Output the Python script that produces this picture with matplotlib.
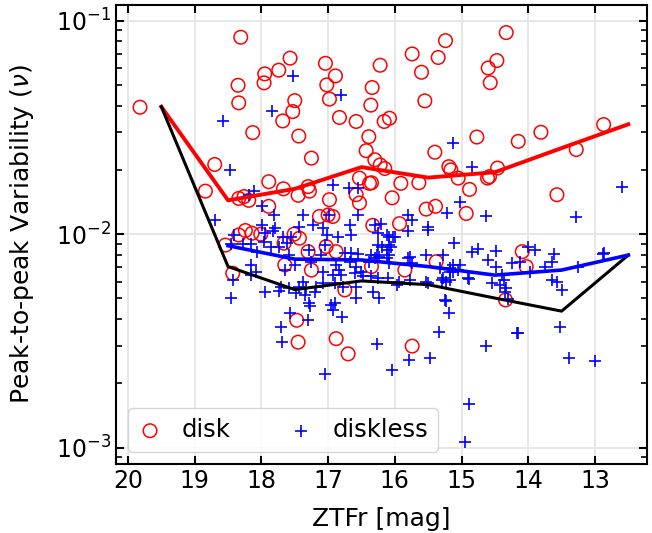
#!/usr/bin/env python3
"""Peak-to-peak variability vs ZTFr magnitude for disk / diskless stars."""

import matplotlib

matplotlib.use("Agg")
import matplotlib.pyplot as plt
import numpy as np

# disk stars (red circles): ZTFr magnitude, peak-to-peak variability
disk_mag = [
    19.82, 18.31, 18.35, 18.34, 18.13, 17.95, 17.96, 17.74, 17.57, 17.50,
    17.53, 17.68, 17.44, 17.25, 17.04, 16.89, 17.02, 16.98, 16.83, 16.58,
    16.22, 16.34, 16.36, 16.16, 16.08, 16.39, 16.43, 16.30, 16.22, 16.15,
    15.74, 15.35, 15.24, 15.60, 15.55, 15.40, 14.33, 14.47, 14.60, 14.57,
    14.77, 14.15, 13.81, 12.87, 13.28, 13.57, 16.35, 16.04, 15.91, 15.64,
    15.19, 15.16, 15.05, 14.88, 15.53, 15.39, 14.93, 14.61, 14.58, 14.46,
    15.93, 14.09, 14.03, 14.34, 15.74, 17.47, 17.45, 16.88, 16.70, 18.70,
    18.84, 18.34, 18.26, 18.19, 17.89, 17.67, 17.45, 17.89, 18.54, 18.34,
    18.24, 18.14, 18.01, 17.66, 17.51, 17.43, 17.65, 18.43, 17.30, 17.28,
    16.98, 16.53, 16.38, 16.58, 16.53, 17.00, 16.93, 17.13, 16.33, 17.03,
    17.30, 16.88, 17.25, 16.35, 15.85, 15.38, 16.75,
]
disk_nu = [
    0.0393, 0.0836, 0.0498, 0.0412, 0.0299, 0.0563, 0.0511, 0.0586, 0.0667, 0.0422,
    0.0375, 0.0339, 0.0288, 0.0227, 0.0631, 0.0551, 0.0500, 0.0429, 0.0352, 0.0337,
    0.0618, 0.0486, 0.0402, 0.0337, 0.0349, 0.0286, 0.0246, 0.0223, 0.0211, 0.0203,
    0.0698, 0.0672, 0.0806, 0.0573, 0.0421, 0.0242, 0.0879, 0.0650, 0.0600, 0.0512,
    0.0285, 0.0272, 0.0300, 0.0326, 0.0249, 0.0153, 0.0174, 0.0148, 0.0173, 0.0174,
    0.0207, 0.0200, 0.0183, 0.0162, 0.0131, 0.0135, 0.0125, 0.0183, 0.0186, 0.0204,
    0.0112, 0.00828, 0.00705, 0.00492, 0.00299, 0.00395, 0.00312, 0.00324, 0.00275, 0.0212,
    0.0159, 0.0147, 0.0150, 0.0144, 0.0176, 0.0163, 0.0152, 0.0135, 0.00889, 0.00991,
    0.0104, 0.0101, 0.0100, 0.00907, 0.0100, 0.00957, 0.00718, 0.00656, 0.0167, 0.0159,
    0.0145, 0.0183, 0.0173, 0.0153, 0.0140, 0.0123, 0.0121, 0.0121, 0.0110, 0.00875,
    0.00828, 0.00828, 0.00679, 0.00705, 0.00679, 0.00743, 0.00548,
]

# diskless stars (blue plus signs)
diskless_mag = [
    18.57, 17.84, 17.53, 16.80, 15.13, 14.85, 15.02, 15.22, 14.64, 13.28,
    12.60, 15.50, 15.80, 15.75, 14.84, 14.75, 14.49, 14.60, 14.48, 14.25,
    14.13, 14.00, 13.90, 13.98, 13.75, 13.65, 13.61, 13.57, 13.50, 14.40,
    14.43, 14.55, 14.35, 14.30, 14.89, 13.25, 12.88, 12.86, 13.53, 13.39,
    13.00, 14.15, 14.17, 14.64, 14.89, 14.95, 15.34, 15.47, 15.79, 16.04,
    16.27, 15.24, 15.19, 17.57, 17.70, 17.69, 17.30, 17.27, 17.04, 16.95,
    16.92, 16.79, 18.47, 18.69, 18.11, 18.18, 17.99, 17.81, 17.99, 17.80,
    18.41, 18.46, 18.28, 18.16, 18.06, 17.96, 17.86, 17.74, 17.61, 17.59,
    18.15, 18.08, 18.16, 17.65, 18.43, 18.46, 17.94, 17.74, 17.71, 17.59,
    16.93, 16.68, 16.55, 17.37, 17.22, 17.43, 17.07, 17.02, 16.85, 16.67,
    16.65, 16.55, 16.98, 16.30, 16.20, 16.25, 16.12, 16.03, 15.80, 15.50,
    15.12, 15.28, 16.08, 16.12, 16.25, 16.27, 16.35, 16.12, 17.05, 17.28,
    17.10, 16.75, 16.65, 16.55, 17.50, 17.25, 16.88, 16.83, 16.67, 16.58,
    16.50, 16.30, 16.38, 16.08, 17.07, 16.93, 16.80, 16.60, 16.48, 16.35,
    16.25, 16.10, 15.93, 15.78, 15.53, 15.28, 15.18, 15.23, 15.03, 15.05,
    15.13, 15.78, 15.53, 15.13, 17.37, 17.43, 17.33, 17.18, 17.20, 17.48,
    17.35, 16.78, 16.58, 16.33, 16.23, 16.58, 16.90, 17.28, 15.25, 16.90,
    17.07, 17.95, 17.83, 17.68, 17.55, 15.32, 15.18, 15.29, 15.18, 14.91,
    14.36, 14.34, 13.64, 15.96, 15.50, 16.08, 16.00, 16.19, 16.06, 16.23,
    16.08, 15.80, 15.75,
]
diskless_nu = [
    0.0337, 0.0378, 0.0551, 0.0449, 0.0268, 0.0207, 0.0142, 0.0125, 0.0121, 0.0120,
    0.0167, 0.0105, 0.0123, 0.0117, 0.00828, 0.00849, 0.00838, 0.00756, 0.00705, 0.00731,
    0.00738, 0.00875, 0.00844, 0.00667, 0.00705, 0.00738, 0.00805, 0.00596, 0.00548, 0.00644,
    0.00578, 0.00589, 0.00538, 0.00498, 0.00618, 0.00705, 0.00805, 0.00820, 0.00369, 0.00262,
    0.00256, 0.00344, 0.00346, 0.00301, 0.00160, 0.00106, 0.00350, 0.00264, 0.00258, 0.00231,
    0.00305, 0.00489, 0.00427, 0.00426, 0.00368, 0.00312, 0.00395, 0.00461, 0.00221, 0.00467,
    0.00441, 0.00410, 0.0200, 0.0116, 0.0159, 0.0153, 0.0136, 0.0123, 0.0110, 0.0107,
    0.00991, 0.00898, 0.00898, 0.00898, 0.00828, 0.00917, 0.00875, 0.00875, 0.00907, 0.00799,
    0.00718, 0.00667, 0.00644, 0.00679, 0.00611, 0.00501, 0.00536, 0.00544, 0.00568, 0.00559,
    0.0170, 0.0164, 0.0164, 0.0123, 0.0110, 0.0108, 0.0107, 0.00991, 0.00973, 0.0110,
    0.00991, 0.0123, 0.0123, 0.0110, 0.0112, 0.0101, 0.0099, 0.00973, 0.0103, 0.0108,
    0.00907, 0.00799, 0.00889, 0.00844, 0.00889, 0.00799, 0.00799, 0.00771, 0.00889, 0.00844,
    0.00799, 0.00813, 0.00813, 0.00805, 0.00718, 0.00743, 0.00718, 0.00679, 0.00743, 0.00705,
    0.00667, 0.00771, 0.00743, 0.00731, 0.00667, 0.00644, 0.00644, 0.00656, 0.00634, 0.00634,
    0.00622, 0.00622, 0.00600, 0.00611, 0.00600, 0.00622, 0.00667, 0.00600, 0.00718, 0.00679,
    0.00667, 0.00785, 0.00799, 0.00718, 0.00600, 0.00568, 0.00559, 0.00568, 0.00538, 0.00528,
    0.00519, 0.00568, 0.00568, 0.00538, 0.00501, 0.00501, 0.00474, 0.00474, 0.00492, 0.00589,
    0.00589, 0.0101, 0.0103, 0.00973, 0.00973, 0.00692, 0.00692, 0.00611, 0.00611, 0.00622,
    0.00611, 0.00558, 0.00611, 0.00578, 0.00589, 0.00973, 0.00973, 0.00875, 0.00875, 0.00785,
    0.00799, 0.00771, 0.00731,
]

# binned trend lines
bin_mag = [19.5, 18.5, 17.5, 16.5, 15.5, 14.5, 13.5, 12.5]
disk_trend = [0.0395, 0.0144, 0.0163, 0.0206, 0.0184, 0.0195, 0.0253, 0.0327]
all_trend = [0.0395, 0.00705, 0.0055, 0.00604, 0.0058, 0.00502, 0.00436, 0.00798]
diskless_bin_mag = [18.5, 17.5, 16.5, 15.5, 14.5, 13.5, 12.5]
diskless_trend = [0.00883, 0.00764, 0.00757, 0.00705, 0.00643, 0.00679, 0.00798]

fig = plt.figure(figsize=(6.52, 5.33), dpi=100)
ax = fig.add_axes([0.1779, 0.1295, 0.8144, 0.8612])

ax.scatter(disk_mag, disk_nu, s=95, facecolors="none", edgecolors="red",
           linewidths=1.1, label="disk", zorder=3)
ax.scatter(diskless_mag, diskless_nu, s=85, marker="+", color="blue",
           linewidths=1.2, label="diskless", zorder=3)

ax.plot(bin_mag, disk_trend, color="red", lw=2.8, zorder=4)
ax.plot(bin_mag, all_trend, color="black", lw=2.2, zorder=4)
ax.plot(diskless_bin_mag, diskless_trend, color="blue", lw=2.6, zorder=4)

ax.set_yscale("log")
ax.set_xlim(20.18, 12.22)
ax.set_ylim(8.39e-4, 0.1184)
ax.set_xticks([20, 19, 18, 17, 16, 15, 14, 13])

ax.grid(True, which="major", color="#e5e5e5", lw=1.3, zorder=0)
ax.set_axisbelow(True)

ax.tick_params(which="both", direction="in", top=True, right=True,
               labelsize=17)
ax.tick_params(which="major", length=6, width=1.5)
ax.tick_params(which="minor", length=4, width=1.2)
for sp in ax.spines.values():
    sp.set_linewidth(1.5)

ax.set_xlabel("ZTFr [mag]", fontsize=18, labelpad=10)
ax.set_ylabel(r"Peak-to-peak Variability ($\nu$)", fontsize=18, labelpad=14)

ax.legend(loc="lower left", ncol=2, fontsize=17.5, handlelength=1.0,
          columnspacing=2.4)

fig.savefig("out.png", dpi=100)
